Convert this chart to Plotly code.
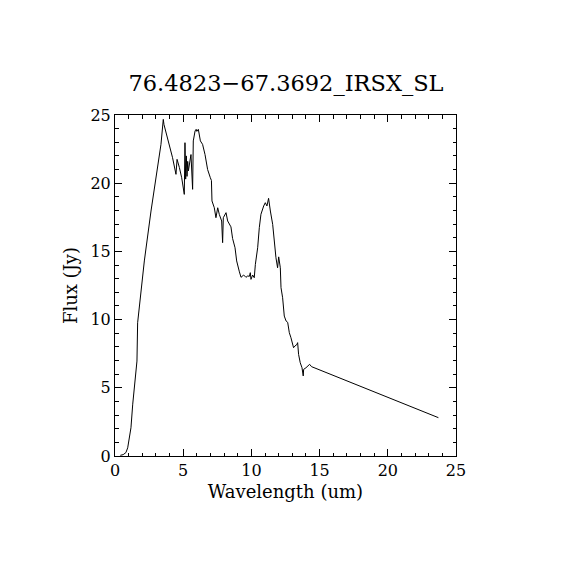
import plotly.graph_objects as go

title_text = "76.4823\u221267.3692_IRSX_SL"
x_label = "Wavelength (um)"
y_label = "Flux (Jy)"

wavelength = [0.39, 0.6, 0.8, 0.93, 1.17, 1.3, 1.61, 1.66, 2.15, 2.64, 3.37, 3.49, 3.54, 3.59, 3.86,
              4.22, 4.47, 4.55, 4.72, 4.89, 5.08, 5.13, 5.18, 5.23, 5.28, 5.33, 5.38, 5.45, 5.57, 5.69,
              5.74, 5.87, 5.95, 6.0, 6.11, 6.26, 6.42, 6.6, 6.79, 6.99, 7.07, 7.11, 7.28, 7.4, 7.53,
              7.65, 7.82, 7.89, 7.94, 8.14, 8.26, 8.5, 8.62, 8.8, 8.92, 9.12, 9.24, 9.43, 9.6, 9.73,
              9.85, 9.92, 9.97, 10.09, 10.21, 10.29, 10.46, 10.58, 10.7, 10.9, 11.02, 11.14, 11.26,
              11.39, 11.56, 11.8, 11.92, 12.0, 12.12, 12.17, 12.29, 12.41, 12.54, 12.66, 12.78, 12.9,
              13.02, 13.09, 13.19, 13.34, 13.39, 13.46, 13.58, 13.71, 13.8, 13.83, 14.0, 14.17, 14.27,
              14.41, 23.71]
flux = [0.05, 0.1, 0.25, 0.6, 2.07, 3.8, 6.96, 9.77, 14.3, 17.96, 22.85, 24.07, 24.68, 24.3, 23.3,
        21.87, 20.65, 21.75, 21.15, 20.4, 19.18, 22.97, 20.3, 22.0, 20.5, 21.6, 20.9, 21.4, 22.1, 19.55,
        23.1, 23.83, 23.95, 23.8, 23.95, 23.1, 22.85, 22.1, 21.0, 20.4, 20.2, 18.7, 18.2, 17.47, 18.2,
        17.7, 17.23, 15.64, 17.47, 17.84, 17.23, 16.8, 15.95, 15.27, 14.3, 13.5, 13.1, 13.27, 13.1, 13.2,
        13.17, 13.44, 12.95, 13.27, 13.07, 14.05, 15.27, 16.74, 17.72, 18.33, 18.57, 18.33, 18.89,
        17.96, 16.98, 14.54, 13.8, 14.6, 13.8, 12.34, 11.6, 10.26, 9.9, 9.8, 9.04, 8.67,
        8.31, 7.94, 8.06, 8.18, 8.31, 7.45, 6.84, 6.47, 5.87, 6.35, 6.47, 6.67, 6.72,
        6.55, 2.81]

x_range = [0, 25]
y_range = [0, 25]

FONT = "DejaVu Serif"

fig = go.Figure()
fig.add_trace(go.Scatter(x=wavelength, y=flux, mode="lines",
                         line=dict(color="black", width=1), showlegend=False,
                         hoverinfo="skip"))

axis_common = dict(
    showline=True, linecolor="black", linewidth=1, mirror="ticks",
    ticks="inside", ticklen=7, tickwidth=1, tickcolor="black",
    dtick=5, tick0=0, showgrid=False, zeroline=False,
    minor=dict(ticks="inside", ticklen=3.5, tickwidth=1, tickcolor="black", dtick=1, showgrid=False),
    tickfont=dict(family=FONT, size=16, color="black"),
)

fig.update_xaxes(range=x_range, title=dict(text=x_label, font=dict(family=FONT, size=18, color="black"), standoff=6), **axis_common)
fig.update_yaxes(range=y_range, title=dict(text=y_label, font=dict(family=FONT, size=18, color="black"), standoff=8), **axis_common)

fig.update_layout(
    width=570, height=570,
    margin=dict(l=107, r=122, t=107, b=122),
    paper_bgcolor="white", plot_bgcolor="white",
    title=dict(text=title_text, x=(285 - 7) / 570, xanchor="center", y=1 - 75 / 570, yanchor="middle",
               font=dict(family=FONT, size=22.5, color="black")),
)

fig.write_html("out.html")
